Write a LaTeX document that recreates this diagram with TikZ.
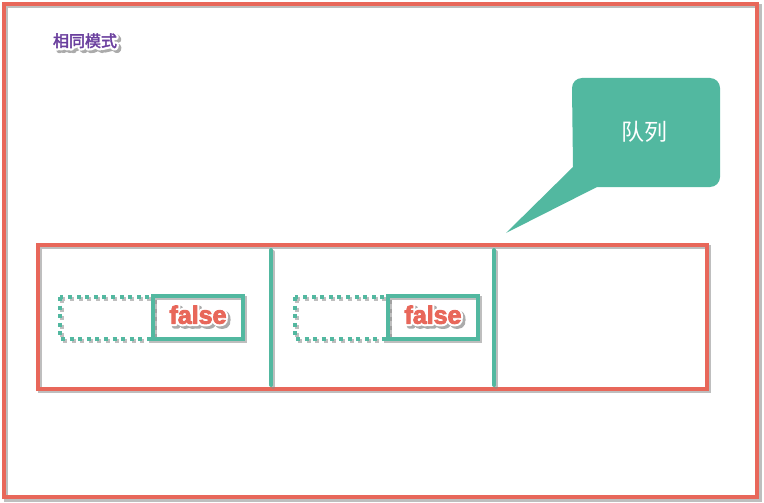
\documentclass[tikz,border=0pt]{standalone}
\usepackage{fontspec}
\newfontfamily\cjk{Noto Sans CJK SC}
\newfontfamily\lsans{Liberation Sans}
\usetikzlibrary{calc}
\definecolor{cred}{HTML}{E8675A}
\definecolor{cteal}{HTML}{52B8A0}
\definecolor{cpurple}{HTML}{6A3F9E}
\definecolor{cshadow}{HTML}{8A8A8A}
\definecolor{chalosh}{HTML}{ABABAB}
\tikzset{
  redline/.style={draw=cred, line width=4pt},
  tealline/.style={draw=cteal, line width=4pt},
  dotline/.style={draw=cteal, line width=4pt, dash pattern=on 4pt off 4.6pt},
  shadowline/.style={draw=cshadow, line width=4pt, opacity=0.55},
  falsetxt/.style={font=\lsans\bfseries\fontsize{25}{28}\selectfont, inner sep=0pt},
  modetxt/.style={font=\cjk\fontsize{16}{18}\selectfont, inner sep=0pt},
}
% stroked text (mode 1 = outline only, mode 2 = fill and outline)
\newcommand{\strk}[3]{\special{pdf:literal direct #1 Tr #2 w 1 J 1 j}#3\special{pdf:literal direct 0 Tr 1 w}}
% text with white halo and grey shadow, in one box
\newcommand{\halo}[3]{%
  \rlap{\kern2.5pt\raisebox{-2.5pt}{\textcolor{chalosh}{\strk{1}{5}{#3}}}}%
  \rlap{\textcolor{white}{\strk{1}{5}{#3}}}%
  \textcolor{#1}{\strk{2}{#2}{#3}}}
\begin{document}
\begin{tikzpicture}[x=1pt,y=-1pt]
\useasboundingbox (0,0) rectangle (764,503);
\fill[white] (0,0) rectangle (764,503);
% outer frame
\draw[shadowline] (6,6) rectangle (760,500);
\draw[redline] (4,4) rectangle (757,497);
% queue
\draw[shadowline] (40,247) rectangle (709,391);
\draw[redline] (38,245) rectangle (707,389);
\draw[shadowline, line cap=round] (273,252) -- (273,387);
\draw[shadowline, line cap=round] (496,252) -- (496,387);
\draw[tealline, line cap=round] (271,250) -- (271,385);
\draw[tealline, line cap=round] (494,250) -- (494,385);
% cell boxes
\foreach \ox in {0,235}{
  \begin{scope}[xshift=\ox]
  \draw[shadowline, dash pattern=on 4pt off 4.6pt] (62,299) rectangle (155,341);
  \draw[dotline] (60,297) rectangle (153,339);
  \draw[shadowline] (155,298) rectangle (245,341);
  \draw[tealline] (153,296) rectangle (243,339);
  \end{scope}
}
\node[falsetxt] (falseA) at (198,316) {\halo{cred}{0.9}{false}};
\node[falsetxt] (falseB) at (433,316) {\halo{cred}{0.9}{false}};
% callout
\fill[cteal] (572,88) arc[start angle=180,end angle=270,radius=10] -- (710,78)
  arc[start angle=270,end angle=360,radius=10] -- (720,177)
  arc[start angle=0,end angle=90,radius=10] -- (597,187) -- (506,233)
  -- (573,167) -- cycle;
\node[font=\cjk\fontsize{23}{26}\selectfont, text=white, inner sep=0pt] (queue) at (644,132) {队列};
% mode label
\node[modetxt] (mode) at (85,42) {\halo{cpurple}{0.4}{相同模式}};
\end{tikzpicture}
\end{document}
